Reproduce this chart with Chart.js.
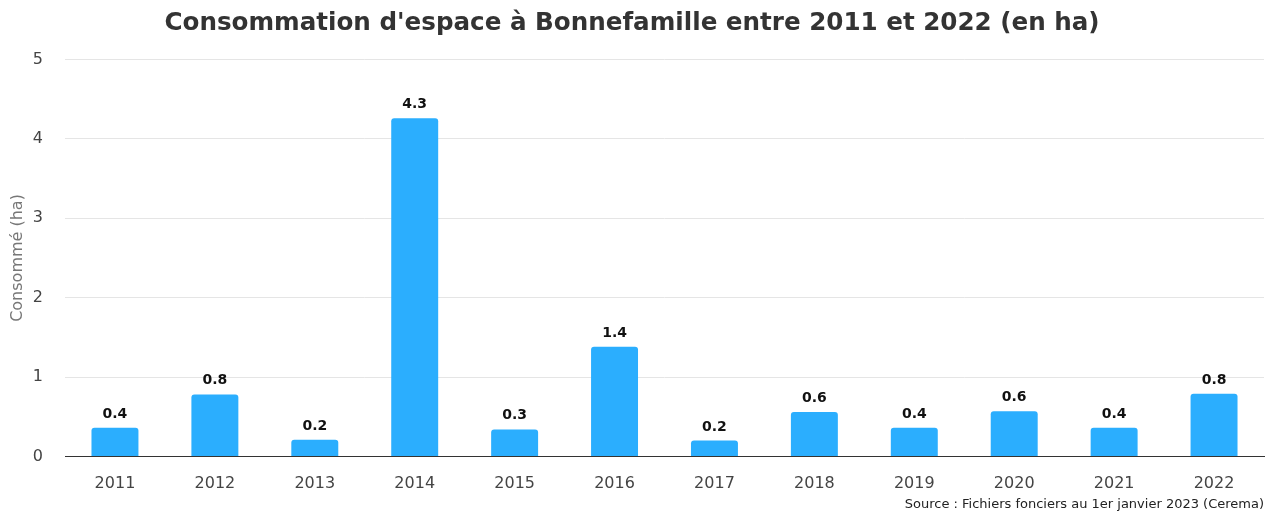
<!DOCTYPE html>
<html>
<head>
<meta charset="utf-8">
<script src="https://cdn.jsdelivr.net/npm/chart.js@4.4.1/dist/chart.umd.min.js"></script>
<style>
  body { margin: 0; background: #fff; }
  #wrap { width: 1271px; height: 512px; }
</style>
</head>
<body>
<div id="wrap"><canvas id="mycanvas" width="1271" height="512"></canvas></div>
<script>
var years = ['2011', '2012', '2013', '2014', '2015', '2016', '2017', '2018', '2019', '2020', '2021', '2022'];
var consomme = [0.36, 0.78, 0.21, 4.26, 0.34, 1.38, 0.2, 0.56, 0.36, 0.57, 0.36, 0.79];
var yTicks = [0, 1, 2, 3, 4, 5];

var FONT = "'DejaVu Sans', sans-serif";

// value labels above bars
var barLabels = {
	id: 'barLabels',
	afterDatasetsDraw: function(chart) {
		var ctx = chart.ctx;
		var meta = chart.getDatasetMeta(0);
		ctx.save();
		ctx.font = 'bold 14px ' + FONT;
		ctx.fillStyle = '#111';
		ctx.textAlign = 'center';
		ctx.textBaseline = 'alphabetic';
		meta.data.forEach(function(bar, i) {
			ctx.fillText(consomme[i].toFixed(1), bar.x, bar.y - 10);
		});
		ctx.restore();
	}
};

var ctx = document.getElementById('mycanvas');

new Chart(ctx, {
	type: 'bar',
	data: {
		labels: years,
		datasets: [{
			label: 'Consommé (ha)',
			data: consomme,
			backgroundColor: '#2baefe',
			borderRadius: 3,
			borderSkipped: 'bottom',
			categoryPercentage: 1,
			barPercentage: 0.47
		}]
	},
	options: {
		responsive: false,
		animation: false,
		layout: { padding: { left: 0, right: 7, top: 0, bottom: 0 } },
		plugins: {
			legend: { display: false },
			tooltip: { enabled: false },
			title: {
				display: true,
				text: "Consommation d'espace à Bonnefamille entre 2011 et 2022 (en ha)",
				color: '#333',
				font: { family: FONT, size: 24.6, weight: 'bold' },
				padding: { top: 9, bottom: 21 }
			},
			subtitle: {
				display: true,
				position: 'bottom',
				align: 'end',
				text: 'Source : Fichiers fonciers au 1er janvier 2023 (Cerema)',
				color: '#222',
				font: { family: FONT, size: 13 },
				padding: { top: 2, bottom: 0 }
			}
		},
		scales: {
			x: {
				grid: { display: false, drawTicks: false },
				border: { display: true, color: '#333', width: 1 },
				ticks: { color: '#444', font: { family: FONT, size: 16 }, padding: 18 },
				afterFit: function(scale) { scale.height = 38; }
			},
			y: {
				min: 0,
				max: 5,
				afterBuildTicks: function(scale) {
					scale.ticks = yTicks.map(function(v) { return { value: v }; });
				},
				afterFit: function(scale) { scale.width = 65; },
				grid: { color: '#e5e5e5', drawTicks: false },
				border: { display: false },
				ticks: { color: '#444', font: { family: FONT, size: 16 }, padding: 22 },
				title: {
					display: true,
					text: 'Consommé (ha)',
					color: '#777',
					font: { family: FONT, size: 16 },
					padding: { top: 8, bottom: 0 }
				}
			}
		}
	},
	plugins: [barLabels]
});
</script>
</body>
</html>
